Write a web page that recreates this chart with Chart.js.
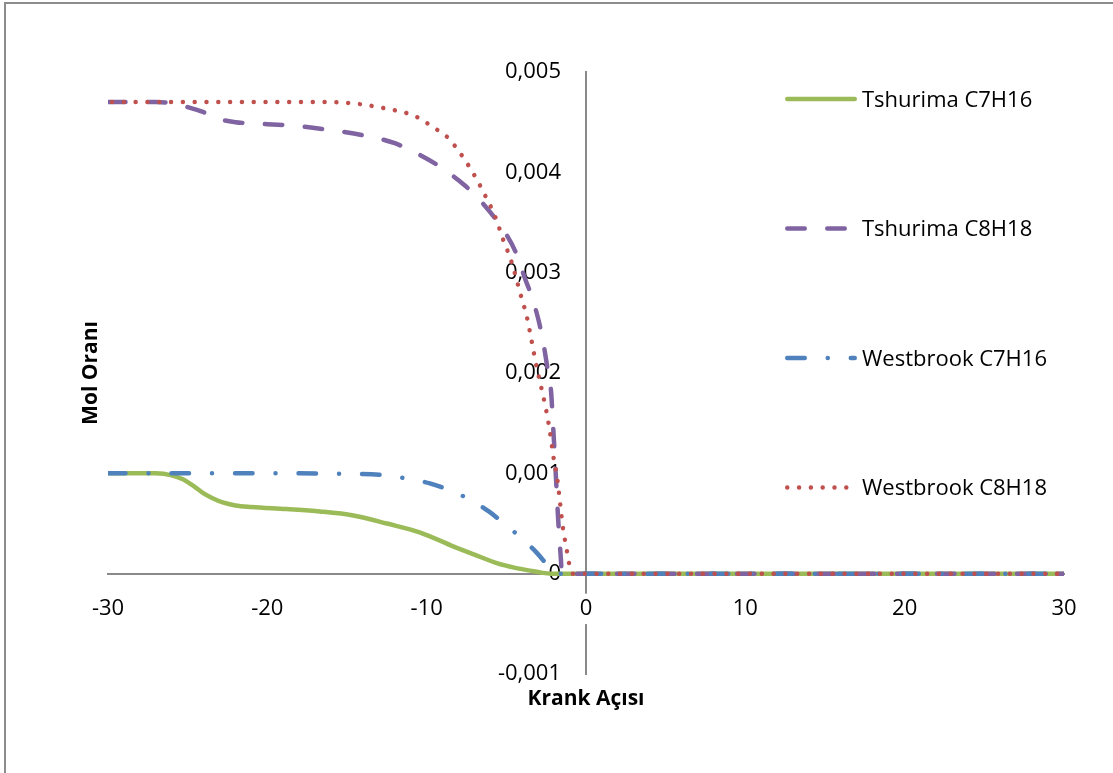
<!DOCTYPE html>
<html>
<head>
<meta charset="utf-8">
<script src="https://cdn.jsdelivr.net/npm/chart.js@4/dist/chart.umd.min.js"></script>
<style>
  html, body { margin: 0; padding: 0; background: #ffffff; }
  canvas { display: block; }
</style>
</head>
<body>
<canvas id="chart" width="1113" height="773"></canvas>
<script>
// Series names (legend order)
const seriesNames = ['Tshurima C7H16', 'Tshurima C8H18', 'Westbrook C7H16', 'Westbrook C8H18'];

// Tshurima C7H16: crank angle (deg) and mole fraction
const tshC7Angle = [-30, -27, -26, -25.3, -24.6, -24, -23.4, -22.8, -22, -21, -18.8, -16.7, -14.6, -12.5, -10.4, -8.3, -7, -5.5, -4.5, -3.5, -2.8, -2.2, 0, 10, 20, 30];
const tshC7Mole  = [0.001, 0.001, 0.00098, 0.00094, 0.00087, 0.0008, 0.00075, 0.00071, 0.00068, 0.000665, 0.000644, 0.00062, 0.00058, 0.0005, 0.00041, 0.00027, 0.00019, 0.0001, 0.00006, 0.00003, 0.00001, 0, 0, 0, 0, 0];

// Tshurima C8H18
const tshC8Angle = [-30, -27, -26, -25, -24, -23, -22, -20, -18, -16, -14, -12, -10.5, -9, -8, -7, -6, -5, -4.4, -3.8, -3.4, -3, -2.7, -2.4, -2.2, -2.05, -1.9, -1.75, -1.6, -1.5, 0, 10, 20, 30];
const tshC8Mole  = [0.0047, 0.0047, 0.00469, 0.00465, 0.0046, 0.00453, 0.0045, 0.00448, 0.00446, 0.00442, 0.00437, 0.00429, 0.00418, 0.00404, 0.00392, 0.00378, 0.0036, 0.00338, 0.0032, 0.00293, 0.00276, 0.00254, 0.00232, 0.00203, 0.00183, 0.00143, 0.001, 0.00055, 0.0002, 0, 0, 0, 0, 0];

// Westbrook C7H16
const wbC7Angle = [-30, -20, -15, -12.5, -11, -9.8, -8.7, -7.3, -6.1, -5.3, -4.1, -3.1, -2.5, -1.9, 0, 10, 20, 30];
const wbC7Mole  = [0.001, 0.001, 0.000995, 0.00098, 0.00094, 0.0009, 0.00084, 0.00074, 0.00062, 0.00052, 0.00036, 0.00021, 0.0001, 0, 0, 0, 0, 0];

// Westbrook C8H18
const wbC8Angle = [-30, -20, -16, -14.2, -12.7, -11.25, -10.6, -9.5, -8.7, -7.8, -7, -6.3, -5.7, -5.2, -4.7, -4.1, -3.7, -3.4, -3.1, -2.8, -2.5, -2.25, -2.05, -1.8, -1.63, -1.46, -1.21, -1.07, -0.85, 0, 10, 20, 30];
const wbC8Mole  = [0.0047, 0.0047, 0.0047, 0.00468, 0.00464, 0.00459, 0.00455, 0.00444, 0.00435, 0.00417, 0.00397, 0.00376, 0.00356, 0.00333, 0.00312, 0.00278, 0.00255, 0.00231, 0.00206, 0.00185, 0.00163, 0.0014, 0.00117, 0.00094, 0.00071, 0.00047, 0.00024, 0.00011, 0, 0, 0, 0, 0];

// Axis tick labels and titles
const xTickLabels = ['-30', '-20', '-10', '0', '10', '20', '30'];
const yTickLabels = ['-0,001', '0', '0,001', '0,002', '0,003', '0,004', '0,005'];
const xTitle = 'Krank Açısı';
const yTitle = 'Mol Oranı';

const toPoints = (xs, ys) => xs.map((x, i) => ({ x: x, y: ys[i] }));

const AXIS_GREY = '#898989';
const FONT = '"Open Sans", "DejaVu Sans", sans-serif';

const datasets = [
  { label: seriesNames[0], data: toPoints(tshC7Angle, tshC7Mole), borderColor: '#9BBB59', borderWidth: 4.5, borderDash: [], order: 4 },
  { label: seriesNames[1], data: toPoints(tshC8Angle, tshC8Mole), borderColor: '#8064A2', borderWidth: 4.5, borderDash: [17.5, 22.5], order: 3 },
  { label: seriesNames[2], data: toPoints(wbC7Angle, wbC7Mole),   borderColor: '#4F81BD', borderWidth: 4.5, borderDash: [17.5, 23, 0.01, 23], order: 2 },
  { label: seriesNames[3], data: toPoints(wbC8Angle, wbC8Mole),   borderColor: '#C0504D', borderWidth: 4.5, borderDash: [0.01, 11.8], borderDashOffset: 7.8, order: 1 }
];

// Outer frame of the chart object
const framePlugin = {
  id: 'frame',
  beforeDraw(chart) {
    const ctx = chart.ctx;
    ctx.save();
    ctx.strokeStyle = '#8c8c8c';
    ctx.lineWidth = 2;
    ctx.strokeRect(5, 3, chart.width + 20, chart.height + 20);
    ctx.restore();
  }
};

// Axis titles (bold, y title reads bottom-to-top)
const titlesPlugin = {
  id: 'axisTitles',
  afterDraw(chart) {
    const ctx = chart.ctx;
    const area = chart.chartArea;
    ctx.save();
    ctx.fillStyle = '#000';
    ctx.font = 'bold 21px ' + FONT;
    ctx.textAlign = 'center';
    ctx.textBaseline = 'alphabetic';
    ctx.fillText(xTitle, chart.scales.x.getPixelForValue(0), 705);
    ctx.translate(97, (area.top + area.bottom) / 2);
    ctx.rotate(-Math.PI / 2);
    ctx.fillText(yTitle, 0, 0);
    ctx.restore();
  }
};

// Legend drawn as line samples stacked on the right
const legendPlugin = {
  id: 'lineLegend',
  afterDraw(chart) {
    const ctx = chart.ctx;
    const x0 = 787.25, x1 = 854.75, textX = 862;
    const firstY = 99, stepY = 129.5;
    ctx.save();
    chart.data.datasets.forEach((ds, i) => {
      const y = firstY + i * stepY;
      ctx.beginPath();
      ctx.strokeStyle = ds.borderColor;
      ctx.lineWidth = ds.borderWidth;
      ctx.lineCap = 'round';
      ctx.setLineDash(ds.borderDash || []);
      ctx.lineDashOffset = 0;
      ctx.moveTo(x0, y);
      ctx.lineTo(x1, y);
      ctx.stroke();
      ctx.setLineDash([]);
      ctx.fillStyle = '#000';
      ctx.font = '22px ' + FONT;
      ctx.textAlign = 'left';
      ctx.textBaseline = 'alphabetic';
      ctx.fillText(ds.label, textX, y + 7.9);
    });
    ctx.restore();
  }
};

new Chart(document.getElementById('chart'), {
  type: 'line',
  data: { datasets: datasets },
  options: {
    responsive: false,
    animation: false,
    devicePixelRatio: 1,
    layout: { padding: { left: 108, right: 49, top: 72, bottom: 99 } },
    elements: {
      point: { radius: 0, hoverRadius: 0 },
      line: { cubicInterpolationMode: 'monotone', borderCapStyle: 'round', borderJoinStyle: 'round', fill: false }
    },
    plugins: { legend: { display: false }, tooltip: { enabled: false } },
    scales: {
      x: {
        type: 'linear',
        position: { y: 0 },
        min: -30, max: 30,
        grid: { display: false, drawTicks: false },
        border: { color: AXIS_GREY, width: 2 },
        ticks: {
          stepSize: 10, autoSkip: false, maxRotation: 0,
          padding: 22,
          color: '#000',
          font: { family: FONT, size: 22 },
          showLabelBackdrop: true,
          backdropColor: '#ffffff',
          backdropPadding: { top: 2, bottom: 2, left: 1, right: 1 },
          callback: (v, i) => xTickLabels[i]
        }
      },
      y: {
        type: 'linear',
        position: 'center',
        min: -0.001, max: 0.005,
        grid: { display: false, drawTicks: false },
        border: { color: AXIS_GREY, width: 2, z: -1 },
        ticks: {
          stepSize: 0.001,
          padding: 25,
          color: '#000',
          font: { family: FONT, size: 22 },
          callback: (v, i) => yTickLabels[i]
        }
      }
    }
  },
  plugins: [framePlugin, titlesPlugin, legendPlugin]
});
</script>
</body>
</html>
